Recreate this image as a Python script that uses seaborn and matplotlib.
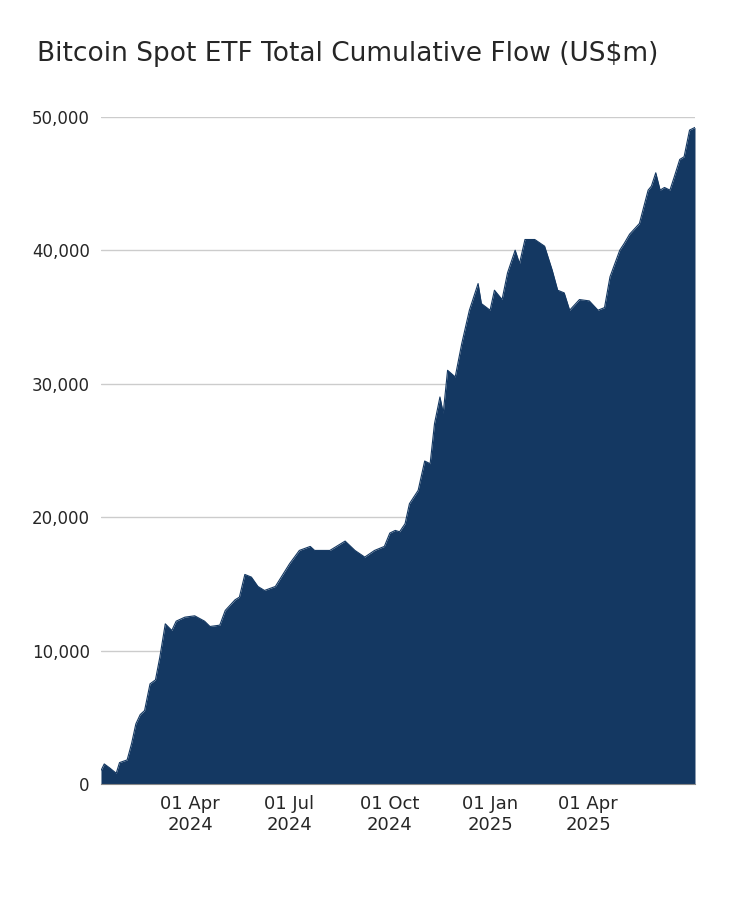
import pandas as pd
import seaborn as sns
import matplotlib.pyplot as plt
import matplotlib.dates as mdates
from matplotlib.ticker import FuncFormatter

# Cumulative flow (US$m)
dates = [
    "2024-01-10", "2024-01-13", "2024-01-18", "2024-01-24", "2024-01-27", "2024-02-03",
    "2024-02-07", "2024-02-11", "2024-02-15", "2024-02-19", "2024-02-24", "2024-02-29",
    "2024-03-04", "2024-03-09", "2024-03-15", "2024-03-19", "2024-03-27", "2024-04-05",
    "2024-04-14", "2024-04-19", "2024-04-28", "2024-05-03", "2024-05-12", "2024-05-16",
    "2024-05-21", "2024-05-27", "2024-06-02", "2024-06-08", "2024-06-18", "2024-07-01",
    "2024-07-10", "2024-07-20", "2024-07-24", "2024-08-07", "2024-08-21", "2024-08-30",
    "2024-09-08", "2024-09-17", "2024-09-26", "2024-10-01", "2024-10-06", "2024-10-10",
    "2024-10-15", "2024-10-19", "2024-10-27", "2024-11-02", "2024-11-07", "2024-11-11",
    "2024-11-16", "2024-11-19", "2024-11-23", "2024-11-30", "2024-12-06", "2024-12-13",
    "2024-12-21", "2024-12-24", "2025-01-01", "2025-01-05", "2025-01-12", "2025-01-17",
    "2025-01-24", "2025-01-28", "2025-02-02", "2025-02-11", "2025-02-20", "2025-02-27",
    "2025-03-04", "2025-03-10", "2025-03-15", "2025-03-24", "2025-04-02", "2025-04-10",
    "2025-04-16", "2025-04-21", "2025-04-30", "2025-05-04", "2025-05-09", "2025-05-18",
    "2025-05-26", "2025-05-29", "2025-06-02", "2025-06-06", "2025-06-10", "2025-06-15",
    "2025-06-19", "2025-06-24", "2025-06-28", "2025-07-03", "2025-07-08",
]
flow = [
    1000, 1500, 1200, 800, 1600, 1800,
    3000, 4500, 5200, 5500, 7500, 7800,
    9500, 12000, 11500, 12200, 12500, 12600,
    12200, 11800, 11900, 13000, 13800, 14000,
    15700, 15500, 14800, 14500, 14800, 16500,
    17500, 17800, 17500, 17500, 18200, 17500,
    17000, 17500, 17800, 18800, 19000, 18900,
    19500, 21000, 22000, 24200, 24000, 27000,
    29000, 27800, 31000, 30500, 33000, 35500,
    37500, 36000, 35500, 37000, 36300, 38300,
    40000, 39000, 40800, 40800, 40300, 38500,
    37000, 36800, 35500, 36300, 36200, 35500,
    35700, 38000, 40000, 40500, 41200, 42000,
    44500, 44800, 45800, 44500, 44700, 44500,
    45500, 46800, 47000, 49000, 49200,
]

df = pd.DataFrame({"date": pd.to_datetime(dates), "flow": flow})
navy = "#143862"

sns.set_style("white")
fig = plt.figure(figsize=(7.37, 8.98), dpi=100)
ax = fig.add_axes([0.137, 0.127, 0.806, 0.743])

sns.lineplot(data=df, x="date", y="flow", color=navy, linewidth=0.8, ax=ax)
ax.fill_between(df["date"], df["flow"], 0, color=navy, linewidth=0)

ax.set_xlim(df["date"].iloc[0], df["date"].iloc[-1])
ax.set_ylim(0, 50000)
ax.set_yticks(range(0, 50001, 10000))
ax.yaxis.set_major_formatter(FuncFormatter(lambda v, p: f"{int(v):,}"))
ax.set_xticks(pd.to_datetime(["2024-04-01", "2024-07-01", "2024-10-01", "2025-01-01", "2025-04-01"]))
ax.xaxis.set_major_formatter(mdates.DateFormatter("%d %b\n%Y"))
ax.grid(axis="y", color="#cccccc", linewidth=1)
ax.set_axisbelow(True)
for s in ["top", "right", "left"]:
    ax.spines[s].set_visible(False)
ax.spines["bottom"].set_color("#888888")
ax.tick_params(axis="both", length=0, labelsize=12, pad=8)
ax.set_xlabel("")
ax.set_ylabel("")
for lbl in ax.get_xticklabels():
    lbl.set_fontsize(13)

fig.text(0.05, 0.94, "Bitcoin Spot ETF Total Cumulative Flow (US$m)", fontsize=19, va="center")
fig.savefig("out.png", dpi=100)
